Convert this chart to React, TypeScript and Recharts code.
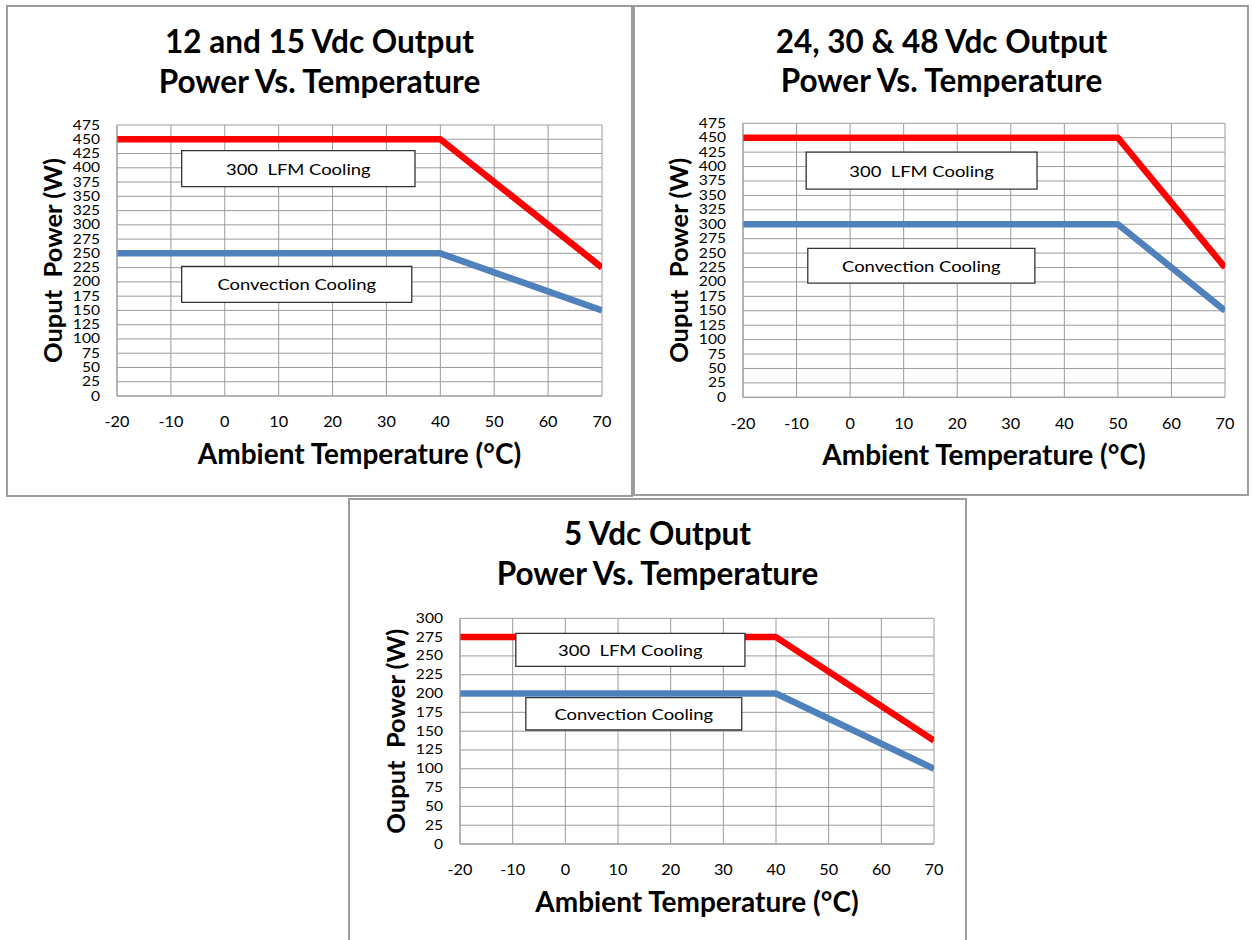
import React from 'react';
import { LineChart, Line, XAxis, YAxis, CartesianGrid, ReferenceArea } from 'recharts';

const FONT = 'Lato, "Open Sans", sans-serif';

// ---- data ----
const tempTicks = [-20, -10, 0, 10, 20, 30, 40, 50, 60, 70];
const powerTicks475 = [0, 25, 50, 75, 100, 125, 150, 175, 200, 225, 250, 275, 300, 325, 350, 375, 400, 425, 450, 475];
const powerTicks300 = [0, 25, 50, 75, 100, 125, 150, 175, 200, 225, 250, 275, 300];

const tempsA = [-20, 40, 70];
const lfmA = [450, 450, 225];
const convA = [250, 250, 150];

const tempsB = [-20, 50, 70];
const lfmB = [450, 450, 225];
const convB = [300, 300, 150];

const tempsC = [-20, 40, 70];
const lfmC = [275, 275, 137.5];
const convC = [200, 200, 100];

const titlesA = ['12 and 15 Vdc Output', 'Power Vs. Temperature'];
const titlesB = ['24, 30 & 48 Vdc Output', 'Power Vs. Temperature'];
const titlesC = ['5 Vdc Output', 'Power Vs. Temperature'];

const xTitle = 'Ambient Temperature (°C)';
const yTitle = 'Ouput  Power (W)';
const lfmLabel = '300  LFM Cooling';
const convLabel = 'Convection Cooling';

// annotation boxes in data coordinates [x1, x2, y1, y2]
const boxesA = { lfm: [-8, 35.3, 367, 430], conv: [-8, 34.7, 164, 227] };
const boxesB = { lfm: [-8.2, 34.9, 361, 425], conv: [-7.9, 34.5, 198, 258] };
const boxesC = { lfm: [-9.4, 34.1, 236, 280], conv: [-7.5, 33.5, 151.5, 194.5] };

type Cfg = {
  left: number; top: number; width: number; height: number;
  margin: { top: number; right: number; bottom: number; left: number };
  temps: number[]; lfm: number[]; conv: number[];
  yMax: number; yTicks: number[];
  boxes: { lfm: number[]; conv: number[] };
};

const panels: Cfg[] = [
  { left: 7, top: 7, width: 625, height: 489, margin: { top: 118, right: 30, bottom: 70, left: 50 },
    temps: tempsA, lfm: lfmA, conv: convA, yMax: 475, yTicks: powerTicks475, boxes: boxesA },
  { left: 634, top: 7, width: 615, height: 488, margin: { top: 116.3, right: 24, bottom: 67.7, left: 49 },
    temps: tempsB, lfm: lfmB, conv: convB, yMax: 475, yTicks: powerTicks475, boxes: boxesB },
  { left: 350, top: 498, width: 615, height: 442, margin: { top: 120.3, right: 31, bottom: 66, left: 50 },
    temps: tempsC, lfm: lfmC, conv: convC, yMax: 300, yTicks: powerTicks300, boxes: boxesC },
];

const GRID = '#9c9c9c';

const YTick = (props: any) => {
  const { x, y, payload } = props;
  return (
    <text transform={`translate(${x},${y}) scale(1.25,1)`} textAnchor="end" dy="0.36em"
      fontSize={12.5} fontFamily={FONT} fill="#000">{payload.value}</text>
  );
};

const XTick = (props: any) => {
  const { x, y, payload } = props;
  return (
    <text transform={`translate(${x},${y}) scale(1.12,1)`} textAnchor="middle" dy="0.71em"
      fontSize={14.5} fontFamily={FONT} fill="#000">{payload.value}</text>
  );
};

const makeBoxLabel = (text: string) => (props: any) => {
  const vb = props && props.viewBox;
  if (!vb) return null;
  const cx = vb.x + vb.width / 2;
  const cy = vb.y + vb.height / 2;
  return (
    <text transform={`translate(${cx},${cy}) scale(1.15,1)`} textAnchor="middle" dominantBaseline="central"
      fontSize={16} fontFamily={FONT} fill="#000" style={{ whiteSpace: 'pre' }}>{text}</text>
  );
};

function Panel({ cfg }: { cfg: Cfg }) {
  const data = cfg.temps.map((t, i) => ({ t, lfm: cfg.lfm[i], conv: cfg.conv[i] }));
  return (
    <div style={{ position: 'absolute', left: cfg.left, top: cfg.top, width: cfg.width, height: cfg.height }}>
      <LineChart width={cfg.width} height={cfg.height} data={data} margin={cfg.margin}>
        <CartesianGrid stroke={GRID} strokeWidth={1} />
        <XAxis dataKey="t" type="number" domain={[-20, 70]} ticks={tempTicks} interval={0} allowDataOverflow
          tickLine={false} axisLine={{ stroke: GRID }} tickSize={0} tickMargin={21} height={30}
          tick={<XTick />} />
        <YAxis type="number" domain={[0, cfg.yMax]} ticks={cfg.yTicks} interval={0} allowDataOverflow
          tickLine={false} axisLine={{ stroke: GRID }} tickSize={0} tickMargin={17} width={60}
          tick={<YTick />} />
        <Line type="linear" dataKey="conv" stroke="#4F81BD" strokeWidth={6.5} dot={false} activeDot={false}
          strokeLinejoin="round" isAnimationActive={false} />
        <Line type="linear" dataKey="lfm" stroke="#FF0000" strokeWidth={6.5} dot={false} activeDot={false}
          strokeLinejoin="round" isAnimationActive={false} />
        <ReferenceArea x1={cfg.boxes.lfm[0]} x2={cfg.boxes.lfm[1]} y1={cfg.boxes.lfm[2]} y2={cfg.boxes.lfm[3]}
          fill="#fff" fillOpacity={1} stroke="#333" strokeWidth={1.3} ifOverflow="visible" zIndex={700}
          label={makeBoxLabel(lfmLabel)} />
        <ReferenceArea x1={cfg.boxes.conv[0]} x2={cfg.boxes.conv[1]} y1={cfg.boxes.conv[2]} y2={cfg.boxes.conv[3]}
          fill="#fff" fillOpacity={1} stroke="#333" strokeWidth={1.3} ifOverflow="visible" zIndex={700}
          label={makeBoxLabel(convLabel)} />
      </LineChart>
    </div>
  );
}

function PanelText({ cfg, titles, titleY }: { cfg: Cfg; titles: string[]; titleY: number[] }) {
  const plotL = cfg.left + cfg.margin.left + 60;
  const plotR = cfg.left + cfg.width - cfg.margin.right;
  const plotT = cfg.top + cfg.margin.top;
  const plotB = cfg.top + cfg.height - cfg.margin.bottom - 30;
  const cx = (plotL + plotR) / 2;
  const cy = (plotT + plotB) / 2;
  const panelCx = cfg.left + cfg.width / 2;
  const yx = plotL - 65;
  return (
    <g fontFamily={FONT} fill="#000">
      {titles.map((t, i) => (
        <text key={i} x={panelCx} y={cfg.top + titleY[i]} textAnchor="middle" fontSize={31.5} fontWeight={700}>{t}</text>
      ))}
      <text x={cx} y={plotB + 68} textAnchor="middle" fontSize={28} fontWeight={700}>{xTitle}</text>
      <text x={yx} y={cy} textAnchor="middle" dominantBaseline="central" fontSize={25.5} fontWeight={700}
        transform={`rotate(-90 ${yx} ${cy})`} style={{ whiteSpace: 'pre' }}>{yTitle}</text>
    </g>
  );
}

export default function App() {
  return (
    <div style={{ position: 'absolute', left: 0, top: 0, width: 1252, height: 940, background: '#fff', overflow: 'hidden' }}>
      {panels.map((p, i) => <Panel key={i} cfg={p} />)}
      <svg width={1252} height={940} style={{ position: 'absolute', left: 0, top: 0, pointerEvents: 'none' }}>
        <rect x={7} y={6} width={625} height={490} fill="none" stroke="#9c9c9c" strokeWidth={2} />
        <rect x={634} y={6} width={614} height={489} fill="none" stroke="#9c9c9c" strokeWidth={2} />
        <rect x={349} y={499} width={617} height={460} fill="none" stroke="#9c9c9c" strokeWidth={2} />
        <PanelText cfg={panels[0]} titles={titlesA} titleY={[46, 86]} />
        <PanelText cfg={panels[1]} titles={titlesB} titleY={[46, 85]} />
        <PanelText cfg={panels[2]} titles={titlesC} titleY={[47, 87]} />
      </svg>
    </div>
  );
}
